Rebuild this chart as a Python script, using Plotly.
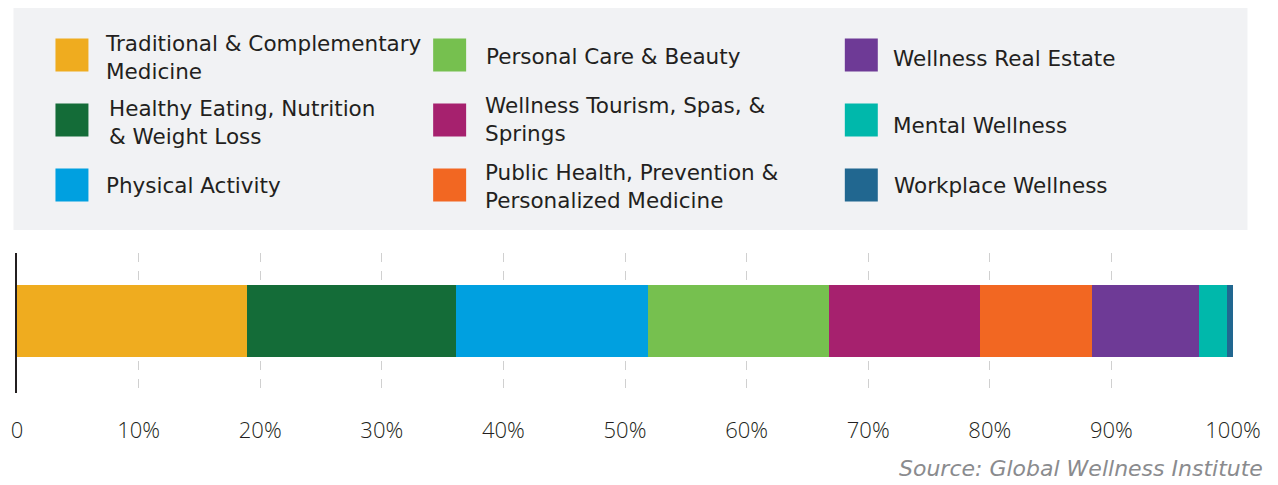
import plotly.graph_objects as go

categories = [
    "Traditional & Complementary<br>Medicine",
    "Healthy Eating, Nutrition<br>& Weight Loss",
    "Physical Activity",
    "Personal Care & Beauty",
    "Wellness Tourism, Spas, &<br>Springs",
    "Public Health, Prevention &<br>Personalized Medicine",
    "Wellness Real Estate",
    "Mental Wellness",
    "Workplace Wellness",
]
shares = [18.9, 17.2, 15.8, 14.9, 12.4, 9.2, 8.8, 2.3, 0.5]
colors = ["#EFAC1F", "#146C38", "#00A0E0", "#76C04F", "#A6216E",
          "#F26722", "#6E3A96", "#00B8AB", "#216790"]
tick_vals = [0, 10, 20, 30, 40, 50, 60, 70, 80, 90, 100]
tick_text = ["0", "10%", "20%", "30%", "40%", "50%", "60%", "70%", "80%", "90%", "100%"]
source_text = "Source: Global Wellness Institute"

# page body has an 8px margin; work in window pixels and shift
OFF = 8
W, H = 1278 - OFF, 485 - OFF
L, R, T, B = 16.5 - OFF, 1278 - 1233.5, 253 - OFF, 485 - 393
PW, PH = W - L - R, H - T - B

def px2x(px):
    return (px - OFF - L) / PW

def px2y(py):
    return (H - B - (py - OFF)) / PH

LFONT = "DejaVu Sans"
TXT = "#231F20"

fig = go.Figure()
for name, val, col in zip(categories, shares, colors):
    fig.add_trace(go.Bar(
        x=[val], y=[0], orientation="h", width=0.72,
        name=name.replace("<br>", " "), marker=dict(color=col, line=dict(width=0)),
        showlegend=False, hovertemplate="%{x}%<extra>" + name.replace("<br>", " ") + "</extra>",
    ))

shapes = []
annotations = []
shapes.append(dict(type="rect", xref="paper", yref="paper",
                   x0=px2x(13), x1=px2x(1248), y0=px2y(230), y1=px2y(6),
                   fillcolor="#F1F2F4", line=dict(width=0), layer="below"))

col_swatch_x = [55, 433, 845]
col_text_x = [[103, 107, 104], [484, 483, 483], [891, 891, 892]]
row_swatch_cy = [55, 120, 185]
row_text_cy = [[57, 122, 185], [56, 119, 186], [58, 125, 185]]
for i, (name, col) in enumerate(zip(categories, colors)):
    c, r = divmod(i, 3)
    sx = col_swatch_x[c]
    cy = row_swatch_cy[r]
    shapes.append(dict(type="rect", xref="paper", yref="paper",
                       x0=px2x(sx), x1=px2x(sx + 33), y0=px2y(cy + 16.5), y1=px2y(cy - 16.5),
                       fillcolor=col, line=dict(width=0)))
    annotations.append(dict(xref="paper", yref="paper", x=px2x(col_text_x[c][r]),
                            y=px2y(row_text_cy[c][r]), text=name, showarrow=False,
                            xanchor="left", yanchor="middle", align="left",
                            font=dict(family=LFONT, size=21.5, color=TXT)))

annotations.append(dict(xref="paper", yref="paper", x=px2x(1266), y=px2y(468),
                        text="<i>" + source_text + "</i>", showarrow=False,
                        xanchor="right", yanchor="middle",
                        font=dict(family=LFONT, size=22, color="#8A8B8E")))

fig.update_layout(
    width=W, height=H,
    margin=dict(l=L, r=R, t=T, b=B, pad=0, autoexpand=False),
    paper_bgcolor="white", plot_bgcolor="white",
    barmode="stack", bargap=0,
    shapes=shapes, annotations=annotations,
    font=dict(family=LFONT, color=TXT),
    xaxis=dict(range=[0, 100], tickvals=tick_vals, ticktext=tick_text,
               automargin=False,
               showgrid=True, gridcolor="#D0D0D0", griddash="dash", gridwidth=1,
               zeroline=False, showline=False,
               ticks="outside", ticklen=18, tickcolor="rgba(0,0,0,0)",
               tickfont=dict(family="Open Sans", size=22, weight=300, color="#231F20")),
    yaxis=dict(range=[-0.72, 0.68], showticklabels=False, showgrid=False,
               automargin=False,
               zeroline=False, showline=True, linecolor="#231F20", linewidth=2,
               ticks=""),
)

fig.write_html("out.html")
